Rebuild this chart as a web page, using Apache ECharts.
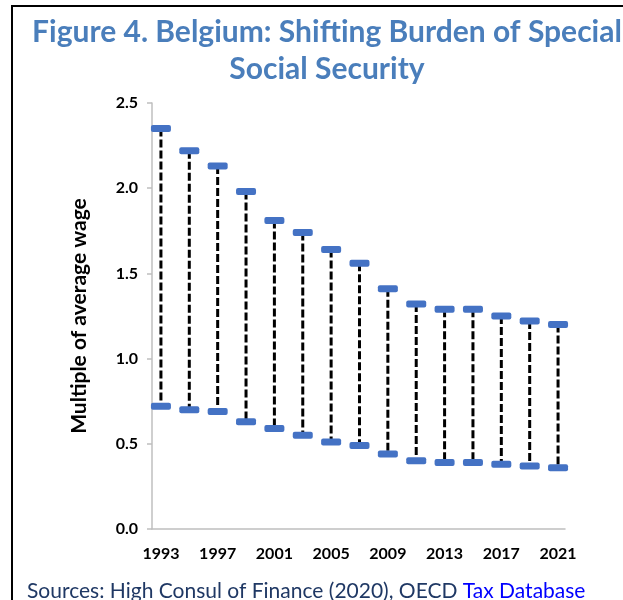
<!DOCTYPE html>
<html>
<head>
<meta charset="utf-8">
<script src="https://cdn.jsdelivr.net/npm/echarts@6/dist/echarts.min.js"></script>
<style>
  html, body { margin: 0; padding: 0; background: #fff; }
  #chart { width: 623px; height: 600px; }
</style>
</head>
<body>
<div id="chart"></div>
<script>
// Years on the horizontal axis
const years = [1993, 1995, 1997, 1999, 2001, 2003, 2005, 2007, 2009, 2011, 2013, 2015, 2017, 2019, 2021];
// Upper and lower bounds, as a multiple of the average wage
const upperBound = [2.35, 2.22, 2.13, 1.98, 1.81, 1.74, 1.64, 1.56, 1.41, 1.32, 1.29, 1.29, 1.25, 1.22, 1.20];
const lowerBound = [0.72, 0.70, 0.69, 0.63, 0.59, 0.55, 0.51, 0.49, 0.44, 0.40, 0.39, 0.39, 0.38, 0.37, 0.36];
// Labelled years and vertical ticks
const yearLabels = [1993, 1997, 2001, 2005, 2009, 2013, 2017, 2021];
const yTicks = [0, 0.5, 1.0, 1.5, 2.0, 2.5];

const titleText = 'Figure 4. Belgium: Shifting Burden of Special\nSocial Security';
const yName = 'Multiple of average wage';

const rangeData = years.map((y, i) => [y, lowerBound[i], upperBound[i]]);

const FONT = 'Lato, "Open Sans", sans-serif';
const chart = echarts.init(document.getElementById('chart'), null, { renderer: 'canvas' });

// Dashed high-low line with a rounded blue cap at each end
function renderRange(params, api) {
  const x = api.value(0);
  const lo = api.coord([x, api.value(1)]);
  const hi = api.coord([x, api.value(2)]);
  const capW = 20, capH = 7;
  return {
    type: 'group',
    children: [
      {
        type: 'line',
        shape: { x1: hi[0], y1: hi[1], x2: lo[0], y2: lo[1] },
        style: { stroke: '#000', lineWidth: 3, lineDash: [8, 3] }
      },
      {
        type: 'rect',
        shape: { x: hi[0] - capW / 2, y: hi[1] - capH / 2, width: capW, height: capH, r: 2 },
        style: { fill: '#4472c4' }
      },
      {
        type: 'rect',
        shape: { x: lo[0] - capW / 2, y: lo[1] - capH / 2, width: capW, height: capH, r: 2 },
        style: { fill: '#4472c4' }
      }
    ]
  };
}

chart.setOption({
  animation: false,
  backgroundColor: '#fff',
  title: {
    text: titleText,
    left: 322,
    textAlign: 'center',
    top: 9,
    textStyle: {
      fontFamily: FONT,
      fontWeight: 'bold',
      fontSize: 30,
      lineHeight: 37,
      color: '#4a7ebb'
    }
  },
  grid: { left: 152, right: 58, top: 103, bottom: 71, containLabel: false },
  xAxis: {
    type: 'value',
    min: 1992.37,
    max: 2021.49,
    axisLine: { show: true, lineStyle: { color: '#bfbfbf', width: 1.5 } },
    axisTick: { show: false },
    splitLine: { show: false },
    axisLabel: {
      customValues: yearLabels,
      formatter: v => String(v),
      margin: 17,
      fontFamily: FONT,
      fontWeight: 'bold',
      fontSize: 16,
      color: '#000'
    }
  },
  yAxis: {
    type: 'value',
    min: 0,
    max: 2.5,
    interval: 0.5,
    name: yName,
    nameLocation: 'middle',
    nameGap: 62,
    nameTextStyle: {
      fontFamily: FONT,
      fontWeight: 'bold',
      fontSize: 21,
      color: '#000'
    },
    axisLine: { show: true, lineStyle: { color: '#bfbfbf', width: 1.5 } },
    axisTick: { show: true, length: 5, lineStyle: { color: '#bfbfbf', width: 1.5 } },
    splitLine: { show: false },
    axisLabel: {
      margin: 14,
      formatter: v => v.toFixed(1),
      fontFamily: FONT,
      fontWeight: 'bold',
      fontSize: 16,
      color: '#000'
    }
  },
  series: [{
    type: 'custom',
    renderItem: renderRange,
    data: rangeData,
    encode: { x: 0, y: [1, 2] },
    clip: false
  }],
  graphic: [
    { type: 'rect', shape: { x: 11, y: 5, width: 612, height: 2 }, style: { fill: '#000' } },
    { type: 'rect', shape: { x: 11, y: 5, width: 2, height: 600 }, style: { fill: '#000' } },
    {
      type: 'text',
      left: 27,
      top: 581,
      style: {
        text: '{a|Sources: High Consul of Finance (2020), OECD }{b|Tax Database}',
        rich: {
          a: { fontFamily: FONT, fontSize: 21, fill: '#1f3864' },
          b: { fontFamily: FONT, fontSize: 21, fill: '#0000ff' }
        }
      }
    }
  ]
});
</script>
</body>
</html>
